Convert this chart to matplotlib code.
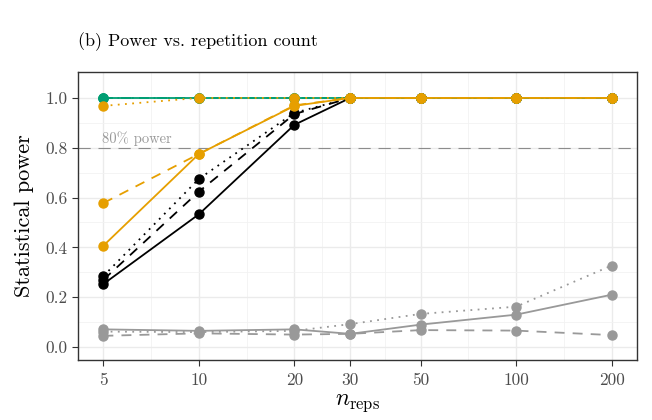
import numpy as np
import matplotlib
matplotlib.use("Agg")
import matplotlib.pyplot as plt

plt.rcParams['font.family'] = ['cmr10', 'DejaVu Serif']
plt.rcParams['mathtext.fontset'] = 'cm'
plt.rcParams['axes.formatter.use_mathtext'] = True

n_reps = [5, 10, 20, 30, 50, 100, 200]
xticks = [5, 10, 20, 30, 50, 100, 200]
yticks = [0.0, 0.2, 0.4, 0.6, 0.8, 1.0]

# power per method (colour) and variant (line style)
gray_solid = [0.071, 0.065, 0.071, 0.053, 0.090, 0.130, 0.210]
gray_dashed = [0.045, 0.055, 0.050, 0.053, 0.068, 0.066, 0.048]
gray_dotted = [0.062, 0.060, 0.065, 0.092, 0.133, 0.162, 0.327]

black_solid = [0.253, 0.533, 0.892, 1.0, 1.0, 1.0, 1.0]
black_dashed = [0.270, 0.624, 0.935, 1.0, 1.0, 1.0, 1.0]
black_dotted = [0.285, 0.675, 0.940, 1.0, 1.0, 1.0, 1.0]

green_solid = [1.0, 1.0, 1.0, 1.0, 1.0, 1.0, 1.0]
green_dashed = [1.0, 1.0, 1.0, 1.0, 1.0, 1.0, 1.0]
green_dotted = [1.0, 1.0, 1.0, 1.0, 1.0, 1.0, 1.0]

orange_solid = [0.407, 0.775, 0.968, 1.0, 1.0, 1.0, 1.0]
orange_dashed = [0.578, 0.775, 0.970, 1.0, 1.0, 1.0, 1.0]
orange_dotted = [0.968, 1.0, 1.0, 1.0, 1.0, 1.0, 1.0]

power_line = 0.8

series = [
    ('#999999', gray_solid, gray_dashed, gray_dotted),
    ('#000000', black_solid, black_dashed, black_dotted),
    ('#009E73', green_solid, green_dashed, green_dotted),
    ('#E69F00', orange_solid, orange_dashed, orange_dotted),
]

fig = plt.figure(figsize=(6.52, 4.2), dpi=100)
ax = fig.add_axes([78 / 652, 60 / 420, 559 / 652, 288 / 420])

ax.set_xscale('log')
lo, hi = np.log10(5), np.log10(200)
pad = 0.05 * (hi - lo)
ax.set_xlim(10 ** (lo - pad), 10 ** (hi + pad))
ax.set_ylim(-0.052, 1.104)

# grid like theme_bw
minor_x = [np.sqrt(a * b) for a, b in zip(xticks[:-1], xticks[1:])]
for v in xticks:
    ax.axvline(v, color='#EBEBEB', lw=1.0, zorder=0)
for v in minor_x:
    ax.axvline(v, color='#F2F2F2', lw=0.6, zorder=0)
for v in yticks:
    ax.axhline(v, color='#EBEBEB', lw=1.0, zorder=0)
for v in np.arange(0.1, 1.05, 0.2):
    ax.axhline(v, color='#F2F2F2', lw=0.6, zorder=0)

ax.axhline(power_line, color='#8C8C8C', lw=0.8, dashes=(11, 7), zorder=1)
ax.text(4.95, power_line + 0.006, '80% power', color='#999999', fontsize=10.5,
        ha='left', va='bottom', zorder=1)

for i, (col, s, d, o) in enumerate(series):
    z = 2 + i
    ax.plot(n_reps, s, color=col, lw=1.3, marker='o', ms=6.5, zorder=z)
    ax.plot(n_reps, d, color=col, lw=1.3, dashes=(5.5, 4.5), marker='o', ms=6.5, zorder=z)
    ax.plot(n_reps, o, color=col, lw=1.3, dashes=(1, 3), marker='o', ms=6.5, zorder=z)

ax.set_xticks(xticks)
ax.set_xticklabels([str(v) for v in xticks])
ax.xaxis.set_minor_locator(matplotlib.ticker.NullLocator())
ax.set_yticks(yticks)
ax.set_yticklabels(['%.1f' % v for v in yticks])
ax.tick_params(axis='both', colors='#333333', labelcolor='#4D4D4D',
               labelsize=12.5, length=4, width=0.8)
ax.tick_params(axis='x', pad=5)

for sp in ax.spines.values():
    sp.set_color('#333333')
    sp.set_linewidth(1.0)

ax.set_ylabel('Statistical power', fontsize=16, labelpad=8)
ax.set_xlabel(r'$n_{\rm reps}$', fontsize=17, labelpad=3)

fig.text(78 / 652, 1 - 42 / 420, '(b) Power vs. repetition count', fontsize=13,
         ha='left', va='center')

fig.savefig('out.png', dpi=100)
